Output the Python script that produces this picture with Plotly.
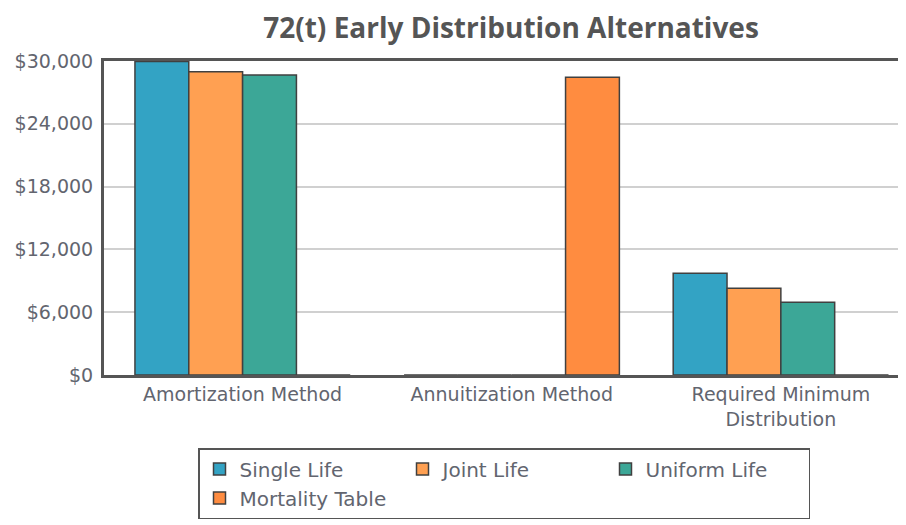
import plotly.graph_objects as go

categories = ["Amortization Method", "Annuitization Method", "Required Minimum<br>Distribution"]
series_names = ["Single Life", "Joint Life", "Uniform Life", "Mortality Table"]
single_life = [29950, 0, 9720]
joint_life = [28980, 0, 8280]
uniform_life = [28660, 0, 6940]
mortality_table = [0, 28440, 0]
colors = ["#33A3C4", "#FFA052", "#3CA797", "#FF8C40"]
y_ticks = [0, 6000, 12000, 18000, 24000, 30000]
y_tick_labels = ["$0", "$6,000", "$12,000", "$18,000", "$24,000", "$30,000"]

# page body has an 8px default margin; figure sized so it ends at the window edge
W, H = 898, 517
L, T = 96, 53
PW, PH = 802, 314

fig = go.Figure()
for name, vals, col in zip(series_names, [single_life, joint_life, uniform_life, mortality_table], colors):
    fig.add_trace(go.Bar(
        name=name, x=categories, y=vals,
        marker=dict(color=col, line=dict(color="#404040", width=1.5)),
    ))

fig.update_layout(
    width=W, height=H,
    margin=dict(l=L, r=0, t=T, b=H - T - PH, autoexpand=False),
    paper_bgcolor="white", plot_bgcolor="white",
    barmode="group", bargap=0.2, bargroupgap=0,
    title=dict(text="<b>72(t) Early Distribution Alternatives</b>",
               x=503 / W, xanchor="center", y=1 - 20 / H, yanchor="middle",
               font=dict(family="Open Sans", size=28, color="#555555")),
    font=dict(family="DejaVu Sans", color="#62656f"),
    legend=dict(orientation="h", x=(198 - 104) / PW, y=(375 - 448) / PH,
                xanchor="left", yanchor="top", entrywidth=158, entrywidthmode="pixels",
                bordercolor="#555555", borderwidth=1.5, bgcolor="white",
                font=dict(family="DejaVu Sans", size=20, color="#62656f"),
                traceorder="normal"),
)
fig.update_xaxes(
    range=[-0.515, 2.465], showline=True, mirror=True, linecolor="#555555", linewidth=3,
    ticks="", tickfont=dict(family="DejaVu Sans", size=19, color="#62656f"),
    showgrid=False,
)
fig.update_yaxes(
    range=[0, 30000], tickvals=y_ticks, ticktext=y_tick_labels,
    showline=True, linecolor="#555555", linewidth=3,
    gridcolor="#D0D0D0", gridwidth=1.5, zeroline=False,
    tickfont=dict(family="DejaVu Sans", size=19, color="#62656f"),
    ticks="", ticklabelstandoff=4,
)
fig.write_html("out.html")
